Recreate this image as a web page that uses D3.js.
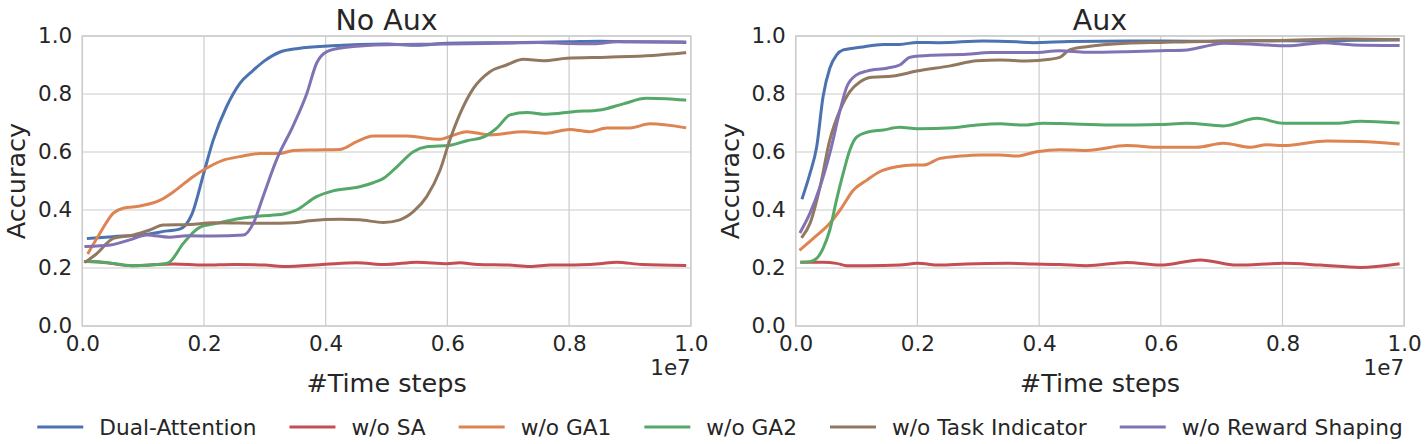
<!DOCTYPE html>
<html>
<head>
<meta charset="utf-8">
<script src="https://cdn.jsdelivr.net/npm/d3@7"></script>
<style>
  body { margin: 0; background: #fff; }
  svg { display: block; font-family: "DejaVu Sans", sans-serif; }
</style>
</head>
<body>
<script>
// legend / series names and colours (seaborn "deep")
var seriesNames = ["Dual-Attention", "w/o SA", "w/o GA1", "w/o GA2", "w/o Task Indicator", "w/o Reward Shaping"];
var seriesColors = ["#4C72B0", "#C44E52", "#DD8452", "#55A868", "#937860", "#8172B3"];
var xTicks = [0, 0.2, 0.4, 0.6, 0.8, 1.0];
var yTicks = [0, 0.2, 0.4, 0.6, 0.8, 1.0];

// ---- No Aux panel, [time steps (1e7), accuracy]
var noAuxDual = [[0.01,0.302],[0.05,0.308],[0.10,0.315],[0.14,0.328],[0.16,0.334],[0.18,0.385],[0.20,0.53],[0.215,0.64],[0.237,0.756],[0.259,0.837],[0.28,0.88],[0.30,0.915],[0.324,0.944],[0.355,0.957],[0.41,0.966],[0.50,0.972],[0.55,0.968],[0.60,0.975],[0.70,0.977],[0.80,0.98],[0.85,0.982],[0.90,0.98],[0.99,0.978]];
var noAuxSA = [[0.01,0.222],[0.04,0.218],[0.08,0.208],[0.15,0.214],[0.20,0.21],[0.25,0.212],[0.30,0.21],[0.33,0.205],[0.40,0.213],[0.45,0.218],[0.50,0.212],[0.55,0.22],[0.60,0.215],[0.62,0.218],[0.65,0.212],[0.70,0.21],[0.736,0.205],[0.77,0.21],[0.80,0.21],[0.85,0.215],[0.878,0.22],[0.92,0.212],[0.99,0.209]];
var noAuxGA1 = [[0.01,0.253],[0.029,0.32],[0.051,0.389],[0.067,0.406],[0.095,0.414],[0.128,0.434],[0.15,0.463],[0.182,0.515],[0.204,0.544],[0.232,0.572],[0.259,0.584],[0.292,0.595],[0.324,0.595],[0.347,0.605],[0.385,0.607],[0.424,0.609],[0.451,0.636],[0.478,0.655],[0.533,0.655],[0.588,0.644],[0.604,0.654],[0.632,0.67],[0.67,0.659],[0.725,0.67],[0.763,0.665],[0.801,0.678],[0.834,0.67],[0.862,0.683],[0.90,0.683],[0.933,0.697],[0.99,0.684]];
var noAuxGA2 = [[0.005,0.222],[0.029,0.221],[0.084,0.208],[0.133,0.214],[0.143,0.22],[0.166,0.285],[0.193,0.34],[0.221,0.354],[0.259,0.371],[0.292,0.379],[0.331,0.386],[0.352,0.40],[0.385,0.446],[0.412,0.466],[0.456,0.48],[0.478,0.494],[0.495,0.509],[0.517,0.549],[0.544,0.601],[0.566,0.618],[0.604,0.623],[0.632,0.639],[0.659,0.651],[0.681,0.682],[0.703,0.728],[0.73,0.736],[0.763,0.73],[0.807,0.739],[0.851,0.745],[0.889,0.766],[0.927,0.785],[0.96,0.784],[0.99,0.779]];
var noAuxTask = [[0.006,0.222],[0.024,0.25],[0.051,0.302],[0.084,0.314],[0.111,0.331],[0.133,0.348],[0.177,0.35],[0.215,0.356],[0.303,0.354],[0.347,0.356],[0.374,0.363],[0.424,0.368],[0.456,0.366],[0.495,0.357],[0.522,0.366],[0.544,0.394],[0.566,0.446],[0.588,0.538],[0.604,0.641],[0.621,0.733],[0.643,0.82],[0.67,0.877],[0.697,0.90],[0.725,0.92],[0.758,0.915],[0.796,0.923],[0.862,0.927],[0.938,0.933],[0.99,0.942]];
var noAuxReward = [[0.006,0.274],[0.046,0.279],[0.078,0.297],[0.106,0.314],[0.143,0.306],[0.172,0.311],[0.215,0.31],[0.265,0.314],[0.281,0.354],[0.297,0.446],[0.319,0.572],[0.347,0.693],[0.369,0.802],[0.385,0.906],[0.402,0.946],[0.43,0.96],[0.50,0.97],[0.60,0.972],[0.70,0.976],[0.75,0.978],[0.80,0.974],[0.84,0.973],[0.88,0.98],[0.99,0.979]];

// ---- Aux panel
var auxDual = [[0.011,0.442],[0.0235,0.526],[0.0345,0.618],[0.045,0.791],[0.056,0.889],[0.067,0.934],[0.078,0.952],[0.106,0.961],[0.144,0.971],[0.171,0.971],[0.199,0.978],[0.237,0.977],[0.308,0.983],[0.363,0.98],[0.39,0.977],[0.45,0.981],[0.55,0.983],[0.65,0.982],[0.75,0.984],[0.85,0.983],[0.92,0.985],[0.99,0.986]];
var auxSA = [[0.01,0.22],[0.045,0.22],[0.067,0.216],[0.084,0.208],[0.117,0.208],[0.171,0.21],[0.20,0.216],[0.237,0.21],[0.28,0.214],[0.35,0.216],[0.39,0.214],[0.434,0.212],[0.478,0.208],[0.544,0.219],[0.599,0.21],[0.665,0.228],[0.725,0.21],[0.802,0.216],[0.862,0.21],[0.928,0.202],[0.99,0.214]];
var auxGA1 = [[0.008,0.264],[0.029,0.302],[0.056,0.354],[0.073,0.40],[0.095,0.469],[0.117,0.503],[0.138,0.532],[0.166,0.549],[0.193,0.555],[0.21,0.555],[0.237,0.578],[0.27,0.586],[0.303,0.59],[0.336,0.59],[0.363,0.586],[0.396,0.601],[0.434,0.608],[0.478,0.605],[0.544,0.622],[0.599,0.616],[0.659,0.616],[0.703,0.63],[0.747,0.616],[0.774,0.625],[0.802,0.622],[0.873,0.638],[0.928,0.636],[0.99,0.628]];
var auxGA2 = [[0.01,0.22],[0.0235,0.222],[0.0345,0.233],[0.045,0.268],[0.056,0.331],[0.067,0.434],[0.078,0.526],[0.089,0.607],[0.10,0.651],[0.117,0.668],[0.144,0.676],[0.171,0.685],[0.20,0.68],[0.259,0.684],[0.298,0.693],[0.336,0.697],[0.374,0.693],[0.407,0.699],[0.434,0.698],[0.517,0.693],[0.599,0.695],[0.643,0.699],[0.703,0.69],[0.758,0.716],[0.802,0.699],[0.889,0.699],[0.928,0.706],[0.99,0.70]];
var auxTask = [[0.011,0.308],[0.0235,0.354],[0.04,0.48],[0.056,0.641],[0.073,0.745],[0.089,0.808],[0.106,0.842],[0.122,0.857],[0.16,0.862],[0.199,0.879],[0.254,0.897],[0.298,0.915],[0.336,0.917],[0.379,0.914],[0.418,0.92],[0.434,0.926],[0.45,0.952],[0.478,0.963],[0.544,0.975],[0.599,0.978],[0.709,0.983],[0.79,0.984],[0.90,0.99],[0.99,0.988]];
var auxReward = [[0.008,0.325],[0.0235,0.389],[0.04,0.48],[0.056,0.595],[0.073,0.745],[0.084,0.825],[0.10,0.866],[0.117,0.879],[0.15,0.889],[0.171,0.90],[0.188,0.927],[0.226,0.934],[0.281,0.937],[0.32,0.943],[0.39,0.943],[0.434,0.949],[0.478,0.944],[0.544,0.946],[0.599,0.949],[0.643,0.952],[0.67,0.963],[0.703,0.975],[0.758,0.971],[0.807,0.966],[0.867,0.977],[0.917,0.969],[0.99,0.967]];

var panels = [
  { title: "No Aux", left: 82.3, series: [noAuxDual, noAuxSA, noAuxGA1, noAuxGA2, noAuxTask, noAuxReward] },
  { title: "Aux", left: 795.7, series: [auxDual, auxSA, auxGA1, auxGA2, auxTask, auxReward] }
];

var W = 1428, H = 444;
var plotW = 608.5, plotTop = 36, plotH = 290;
var gridColor = "#cccccc", textColor = "#262626";

var svg = d3.select("body").append("svg").attr("width", W).attr("height", H);

panels.forEach(function (p) {
  var x = d3.scaleLinear().domain([0, 1]).range([0, plotW]);
  var y = d3.scaleLinear().domain([0, 1]).range([plotH, 0]);
  var g = svg.append("g").attr("transform", "translate(" + p.left + "," + plotTop + ")");

  // grid
  g.selectAll(".gx").data(xTicks).enter().append("line")
    .attr("x1", function (d) { return x(d); }).attr("x2", function (d) { return x(d); })
    .attr("y1", 0).attr("y2", plotH)
    .attr("stroke", gridColor).attr("stroke-width", 1.2);
  g.selectAll(".gy").data(yTicks).enter().append("line")
    .attr("y1", function (d) { return y(d); }).attr("y2", function (d) { return y(d); })
    .attr("x1", 0).attr("x2", plotW)
    .attr("stroke", gridColor).attr("stroke-width", 1.2);
  g.append("rect").attr("width", plotW).attr("height", plotH)
    .attr("fill", "none").attr("stroke", gridColor).attr("stroke-width", 1.5);

  // axes (labels only, seaborn whitegrid has no tick marks)
  var ax = g.append("g").attr("transform", "translate(0," + plotH + ")")
    .call(d3.axisBottom(x).tickValues(xTicks).tickFormat(d3.format(".1f")).tickSize(0).tickPadding(10));
  var ay = g.append("g")
    .call(d3.axisLeft(y).tickValues(yTicks).tickFormat(d3.format(".1f")).tickSize(0).tickPadding(10));
  [ax, ay].forEach(function (a) {
    a.select(".domain").remove();
    a.selectAll("text").attr("font-size", 21.5).attr("fill", textColor).attr("font-family", "DejaVu Sans");
  });

  // lines
  var line = d3.line()
    .x(function (d) { return x(d[0]); })
    .y(function (d) { return y(d[1]); })
    .curve(d3.curveMonotoneX);
  p.series.forEach(function (s, i) {
    g.append("path").datum(s)
      .attr("d", line)
      .attr("fill", "none")
      .attr("stroke", seriesColors[i])
      .attr("stroke-width", 3)
      .attr("stroke-linejoin", "round")
      .attr("stroke-linecap", "square");
  });

  // titles and labels
  g.append("text").attr("x", plotW / 2).attr("y", -6)
    .attr("text-anchor", "middle").attr("font-size", 28.5).attr("fill", textColor).text(p.title);
  g.append("text").attr("x", plotW / 2).attr("y", 355.5)
    .attr("text-anchor", "middle").attr("font-size", 25.5).attr("fill", textColor).text("#Time steps");
  g.append("text").attr("x", plotW).attr("y", 339)
    .attr("text-anchor", "end").attr("font-size", 21.5).attr("fill", textColor).text("1e7");
  g.append("text")
    .attr("transform", "translate(-57," + (plotH / 2) + ") rotate(-90)")
    .attr("text-anchor", "middle").attr("font-size", 25.5).attr("fill", textColor).text("Accuracy");
});

// legend, one row under both panels
var legend = svg.append("g");
var lx = 0, handleLen = 46, handlePad = 16, colSpace = 33;
seriesNames.forEach(function (name, i) {
  var item = legend.append("g").attr("transform", "translate(" + lx + ",0)");
  item.append("line").attr("x1", 0).attr("x2", handleLen).attr("y1", 0).attr("y2", 0)
    .attr("stroke", seriesColors[i]).attr("stroke-width", 3);
  var t = item.append("text").attr("x", handleLen + handlePad).attr("y", 8)
    .attr("font-size", 21.7).attr("fill", textColor).text(name);
  lx += handleLen + handlePad + t.node().getComputedTextLength() + colSpace;
});
var legendW = lx - colSpace;
legend.attr("transform", "translate(" + (720 - legendW / 2) + ",427)");
</script>
</body>
</html>
